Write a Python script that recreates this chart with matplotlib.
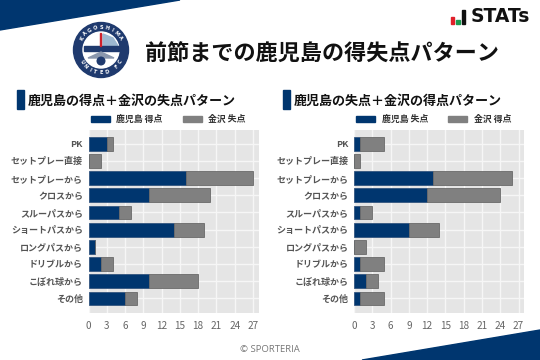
import matplotlib
matplotlib.use("Agg")
import numpy as np
import matplotlib.pyplot as plt
from matplotlib.patches import Circle, Polygon, Rectangle

plt.rcParams['font.family'] = ['Noto Sans CJK JP', 'DejaVu Sans']

categories = ["PK", "セットプレー直接", "セットプレーから", "クロスから", "スルーパスから",
              "ショートパスから", "ロングパスから", "ドリブルから", "こぼれ球から", "その他"]
left_home = [3, 0, 16, 10, 5, 14, 1, 2, 10, 6]
left_away = [1, 2, 11, 10, 2, 5, 0, 2, 8, 2]
right_home = [1, 0, 13, 12, 1, 9, 0, 1, 2, 1]
right_away = [4, 1, 13, 12, 2, 5, 2, 4, 2, 4]
x_ticks = [0, 3, 6, 9, 12, 15, 18, 21, 24, 27]

W, H = 540, 360
NAVY = "#00366f"
GRAY = "#808080"

fig = plt.figure(figsize=(W / 100, H / 100), dpi=100)
# 装飾はすべてピクセル座標で置く
bg = fig.add_axes([0, 0, 1, 1])
bg.set_xlim(0, W)
bg.set_ylim(H, 0)
bg.axis("off")


def panel(x0, title, home, away, home_label, away_label):
    ax = fig.add_axes([x0 / W, 1 - 313 / H, 170 / W, 183 / H])
    ax.set_facecolor("#e5e5e5")
    ax.barh(categories, home, height=0.8, color=NAVY, edgecolor="#33557f", linewidth=0.6, zorder=3)
    ax.barh(categories, away, left=home, height=0.8, color=GRAY, edgecolor="#6a6a6a", linewidth=0.6, zorder=3)
    ax.set_xlim(0, 27.9)
    ax.set_ylim(9.85, -0.8)
    ax.set_xticks(x_ticks)
    ax.grid(True, color="#f6f6f6", linewidth=1.0, zorder=1)
    ax.set_axisbelow(True)
    for s in ax.spines.values():
        s.set_visible(False)
    ax.tick_params(length=0)
    ax.tick_params(axis="x", labelsize=7.2, labelcolor="#666666", pad=6)
    ax.tick_params(axis="y", labelsize=6.5, labelcolor="#555555", pad=4)
    for lab in ax.get_yticklabels():
        lab.set_fontweight("bold")

    bg.add_patch(Rectangle((x0 - 71.5, 90), 7, 19, color=NAVY))
    bg.text(x0 - 60.5, 100.5, title, fontsize=9.4, fontweight="bold", color="#111111", va="center")
    bg.add_patch(Rectangle((x0 + 2, 115.5), 19, 6, color=NAVY))
    bg.add_patch(Rectangle((x0 + 94, 115.5), 19, 6, color=GRAY))
    bg.text(x0 + 28, 119.5, home_label, fontsize=6.4, fontweight="bold", color="#333333", va="center")
    bg.text(x0 + 120, 119.5, away_label, fontsize=6.4, fontweight="bold", color="#333333", va="center")


def arc_text(s, cx, cy, r, start, step, flip):
    # エンブレムの文字を一文字ずつ円弧に沿って置く
    for i, ch in enumerate(s):
        a = np.radians(start + step * i)
        rot = -np.degrees(a) - 90 if not flip else -np.degrees(a) + 90
        bg.text(cx + r * np.cos(a), cy + r * np.sin(a), ch, fontsize=3.6, fontweight="bold",
                color="white", ha="center", va="center", rotation=rot, family="DejaVu Sans")


panel(88.5, "鹿児島の得点＋金沢の失点パターン", left_home, left_away, "鹿児島 得点", "金沢 失点")
panel(354, "鹿児島の失点＋金沢の得点パターン", right_home, right_away, "鹿児島 失点", "金沢 得点")

# 角の帯
bg.add_patch(Polygon([(0, 0), (180, 0), (0, 30)], color=NAVY))
bg.add_patch(Polygon([(362, 360), (540, 330), (540, 360)], color=NAVY))

# タイトル
bg.text(145, 54, "前節までの鹿児島の得失点パターン", fontsize=15.9, fontweight="bold", color="#111111", va="center")
bg.text(270, 350, "© SPORTERIA", fontsize=6.8, color="#777777", ha="center", va="center", family="Open Sans")

# エンブレム
bg.add_patch(Circle((101, 50), 27.5, color="#1f3a6e"))
bg.add_patch(Circle((101, 50), 18, color="white"))
bg.add_patch(Polygon([(103, 34), (113, 38), (118, 46), (103, 46)], color="#9db8d0"))
bg.add_patch(Rectangle((83.5, 46), 35, 5, color="#1f3a6e"))
bg.add_patch(Rectangle((99.5, 33), 1.8, 13, color="#d0202a"))
bg.add_patch(Polygon([(88, 58), (101, 52), (114, 58)], color="#8a97ad"))
bg.add_patch(Circle((101, 61), 3.8, color="#1f3a6e"))
arc_text("KAGOSHIMA", 101, 50, 22.5, -148, 14.5, False)
arc_text("UNITED FC", 101, 50, 22.5, 148, -14.5, True)

# STATs ロゴ
bg.add_patch(Rectangle((450.5, 17), 3.5, 7, color="#e0202a"))
bg.add_patch(Rectangle((456, 19.5), 3.5, 4.5, color="#1a9a50"))
bg.add_patch(Rectangle((461.5, 10), 3.5, 14, color="#111111"))
bg.text(471, 17, "STATs", fontsize=13.5, fontweight="bold", color="#111111", va="center", family="DejaVu Sans")

fig.savefig("out.png", dpi=100)
